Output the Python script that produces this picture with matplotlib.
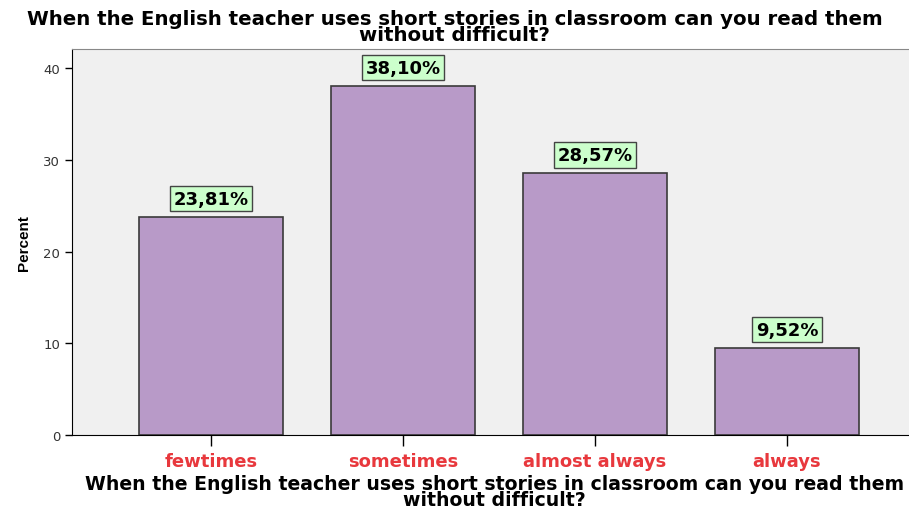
import numpy as np
import matplotlib.pyplot as plt

plt.rcParams['font.family'] = ['Liberation Sans', 'DejaVu Sans']

categories = ['fewtimes', 'sometimes', 'almost always', 'always']
percent = [23.81, 38.10, 28.57, 9.52]
labels = ['23,81%', '38,10%', '28,57%', '9,52%']
title = 'When the English teacher uses short stories in classroom can you read them\nwithout difficult?'

fig = plt.figure(figsize=(9.09, 5.10), dpi=100)
ax = fig.add_axes([0.0792, 0.145, 0.93, 0.757])
ax.set_facecolor('#F0F0F0')

x = np.arange(len(categories))
ax.bar(x, percent, width=0.75, color='#B89AC8', edgecolor='#3a3a3a', linewidth=1.2, zorder=2)

for xi, v, lab in zip(x, percent, labels):
    ax.annotate(lab, (xi, v), xytext=(0, 13), textcoords='offset points',
                ha='center', va='center', fontsize=13, fontweight='bold', family='DejaVu Sans',
                bbox=dict(boxstyle='square,pad=0.2', fc='#CCFFCC', ec='#444444', lw=1))

ax.set_xlim(-0.726, 3.68)
ax.set_ylim(0, 42.1)
ax.set_yticks([0, 10, 20, 30, 40])
ax.set_xticks(x)
ax.set_xticklabels(categories, color='#E8383D', fontsize=13, fontweight='bold', family='DejaVu Sans')
ax.tick_params(axis='x', length=8, width=1, pad=4)
ax.tick_params(axis='y', length=5, width=1, labelcolor='#333333')
for t in ax.get_yticklabels():
    t.set_family('DejaVu Sans')
    t.set_fontsize(9.5)

ax.spines['right'].set_visible(False)
ax.spines['top'].set_color('#888888')
ax.spines['left'].set_color('black')
ax.spines['bottom'].set_color('black')

ax.set_ylabel('Percent', fontsize=11, fontweight='bold', labelpad=9)
ax.set_xlabel(title, fontsize=13.6, fontweight='bold', family='DejaVu Sans', linespacing=0.78, labelpad=3)
fig.text(0.5, 0.946, title, ha='center', va='center', fontsize=14.2, fontweight='bold',
         family='DejaVu Sans', linespacing=0.76)

fig.savefig('out.png', dpi=100)
